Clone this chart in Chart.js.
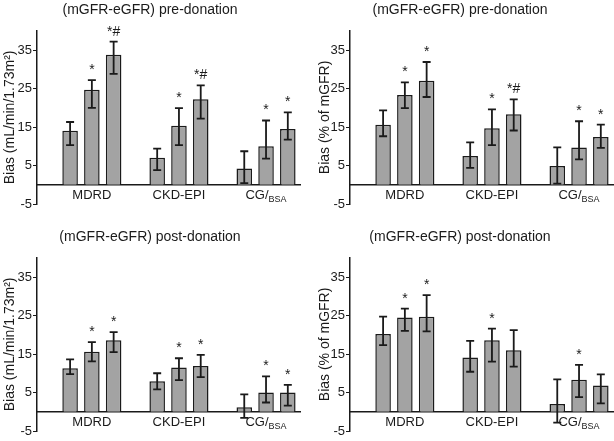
<!DOCTYPE html>
<html>
<head>
<meta charset="utf-8">
<script src="https://cdn.jsdelivr.net/npm/chart.js@4.4.1/dist/chart.umd.min.js"></script>
<style>
  body { margin: 0; background: #fff; width: 614px; height: 441px; overflow: hidden; position: relative; }
  .panel { position: absolute; width: 307px; height: 220px; }
</style>
</head>
<body>
<div class="panel" style="left:0;top:0"><canvas id="preAbs" width="307" height="220"></canvas></div>
<div class="panel" style="left:307px;top:0"><canvas id="prePct" width="307" height="220"></canvas></div>
<div class="panel" style="left:0;top:227px"><canvas id="postAbs" width="307" height="220"></canvas></div>
<div class="panel" style="left:307px;top:227px"><canvas id="postPct" width="307" height="220"></canvas></div>
<script>
// categories (CG gets a subscript)
const groups = ['MDRD', 'CKD-EPI', 'CG/'];
const groupSub = ['', '', 'BSA'];
const yTicks = [-5, 5, 15, 25, 35];

// values per group: [bar1, bar2, bar3]
// pre-donation, mL/min/1.73m2
const preAbsMean = [[14.0, 24.7, 33.8], [7.0, 15.3, 22.2], [4.2, 10.0, 14.5]];
const preAbsHi   = [[16.3, 27.2, 37.2], [9.4, 19.9, 25.8], [8.7, 16.7, 18.8]];
const preAbsLo   = [[10.3, 20.0, 28.8], [3.8, 10.3, 17.2], [0.4, 6.8, 11.7]];
const preAbsMarks = [['', '*', '*#'], ['', '*', '*#'], ['', '*', '*']];

// pre-donation, % of mGFR
const prePctMean = [[15.6, 23.3, 27.0], [7.5, 14.7, 18.3], [4.9, 9.7, 12.4]];
const prePctHi   = [[19.3, 26.6, 31.9], [11.0, 19.6, 22.2], [9.7, 16.5, 15.6]];
const prePctLo   = [[12.6, 19.9, 22.8], [4.4, 10.3, 14.1], [0.3, 6.6, 9.6]];
const prePctMarks = [['', '*', '*'], ['', '*', '*#'], ['', '*', '*']];

// post-donation, mL/min/1.73m2
const postAbsMean = [[11.3, 15.6, 18.6], [7.9, 11.5, 11.9], [1.2, 5.0, 5.0]];
const postAbsHi   = [[13.6, 18.1, 20.7], [10.0, 13.9, 14.8], [4.5, 9.2, 7.0]];
const postAbsLo   = [[9.8, 13.1, 15.5], [5.8, 8.2, 9.0], [-1.6, 2.4, 1.6]];
const postAbsMarks = [['', '*', '*'], ['', '*', '*'], ['', '*', '*']];

// post-donation, % of mGFR
const postPctMean = [[20.2, 24.5, 24.7], [14.1, 18.6, 16.0], [2.0, 8.3, 6.8]];
const postPctHi   = [[24.7, 26.8, 30.3], [18.4, 21.6, 21.2], [8.4, 12.2, 9.7]];
const postPctLo   = [[17.3, 21.0, 20.9], [10.4, 13.0, 11.7], [-2.8, 3.8, 2.2]];
const postPctMarks = [['', '*', '*'], ['', '*', ''], ['', '*', '']];

const ink = '#1a1a1a';
const FONT = '"Liberation Sans", Arial, sans-serif';
Chart.defaults.font.family = FONT;
Chart.defaults.color = ink;

// error bars, significance marks and the x labels
const extras = {
  id: 'extras',
  afterDatasetsDraw(chart) {
    const ctx = chart.ctx;
    const y = chart.scales.y, x = chart.scales.x;
    ctx.save();
    chart.data.datasets.forEach((ds, k) => {
      chart.getDatasetMeta(k).data.forEach((bar, g) => {
        const top = y.getPixelForValue(ds.hi[g]);
        const bot = y.getPixelForValue(ds.lo[g]);
        ctx.strokeStyle = ink;
        ctx.lineWidth = 1.8;
        ctx.beginPath();
        ctx.moveTo(bar.x, top); ctx.lineTo(bar.x, bot);
        ctx.moveTo(bar.x - 4, top); ctx.lineTo(bar.x + 4, top);
        ctx.moveTo(bar.x - 4, bot); ctx.lineTo(bar.x + 4, bot);
        ctx.stroke();
        if (ds.marks[g]) {
          ctx.fillStyle = ink;
          ctx.font = '14px ' + FONT;
          ctx.textAlign = 'center';
          ctx.textBaseline = 'alphabetic';
          ctx.fillText(ds.marks[g], bar.x, top - 6);
        }
      });
    });
    const ly = y.getPixelForValue(0) + 11;
    ctx.fillStyle = ink;
    ctx.textBaseline = 'middle';
    ctx.textAlign = 'left';
    groups.forEach((name, g) => {
      ctx.font = '13px ' + FONT;
      const w1 = ctx.measureText(name).width;
      ctx.font = '9px ' + FONT;
      const w2 = groupSub[g] ? ctx.measureText(groupSub[g]).width : 0;
      const cx = x.getPixelForValue(g);
      const sx = cx - (w1 + w2) / 2;
      ctx.font = '13px ' + FONT;
      ctx.fillText(name, sx, ly);
      if (w2) {
        ctx.font = '9px ' + FONT;
        ctx.fillText(groupSub[g], sx + w1, ly + 4);
      }
    });
    ctx.restore();
  }
};

function makePanel(id, title, yTitle, mean, hi, lo, marks, axisWidth, titlePad, rightPad) {
  const datasets = [0, 1, 2].map(k => ({
    data: groups.map((_, g) => ({ x: g, y: mean[g][k] })),
    hi: groups.map((_, g) => hi[g][k]),
    lo: groups.map((_, g) => lo[g][k]),
    marks: groups.map((_, g) => marks[g][k]),
    backgroundColor: '#a3a3a3',
    borderColor: ink,
    borderWidth: 1.5,
    categoryPercentage: 0.75,
    barPercentage: 0.714
  }));
  new Chart(document.getElementById(id), {
    type: 'bar',
    data: { datasets },
    plugins: [extras],
    options: {
      responsive: false,
      animation: false,
      layout: { padding: { left: 0, right: rightPad, top: 0, bottom: 16 } },
      plugins: {
        legend: { display: false },
        tooltip: { enabled: false },
        title: {
          display: true, text: title, color: ink,
          font: { size: 14, weight: 'normal' },
          padding: { top: 2, bottom: 12 }
        }
      },
      scales: {
        x: {
          type: 'linear', min: -0.63, max: 2.39, offset: false,
          position: { y: 0 },
          afterBuildTicks: s => { s.ticks = groups.map((_, g) => ({ value: g })); },
          ticks: { display: false },
          grid: { display: false, offset: false },
          border: { color: ink, width: 1.5 }
        },
        y: {
          min: -5, max: 40,
          afterBuildTicks: s => { s.ticks = yTicks.map(v => ({ value: v })); },
          afterFit: s => { s.width = axisWidth; },
          ticks: { font: { size: 13 }, color: ink, padding: 1 },
          grid: { drawOnChartArea: false, drawTicks: true, tickLength: 4, color: ink, lineWidth: 1 },
          border: { color: ink, width: 1.5 },
          title: {
            display: true, text: yTitle, color: ink,
            font: { size: 14 }, padding: { top: titlePad, bottom: 0 }
          }
        }
      }
    }
  });
}

makePanel('preAbs', '(mGFR-eGFR) pre-donation', 'Bias (mL/min/1.73m²)',
  preAbsMean, preAbsHi, preAbsLo, preAbsMarks, 37, 2, 7);
makePanel('prePct', '(mGFR-eGFR) pre-donation', 'Bias (% of mGFR)',
  prePctMean, prePctHi, prePctLo, prePctMarks, 43, 10, 1);
makePanel('postAbs', '(mGFR-eGFR) post-donation', 'Bias (mL/min/1.73m²)',
  postAbsMean, postAbsHi, postAbsLo, postAbsMarks, 37, 2, 7);
makePanel('postPct', '(mGFR-eGFR) post-donation', 'Bias (% of mGFR)',
  postPctMean, postPctHi, postPctLo, postPctMarks, 43, 10, 1);
</script>
</body>
</html>
